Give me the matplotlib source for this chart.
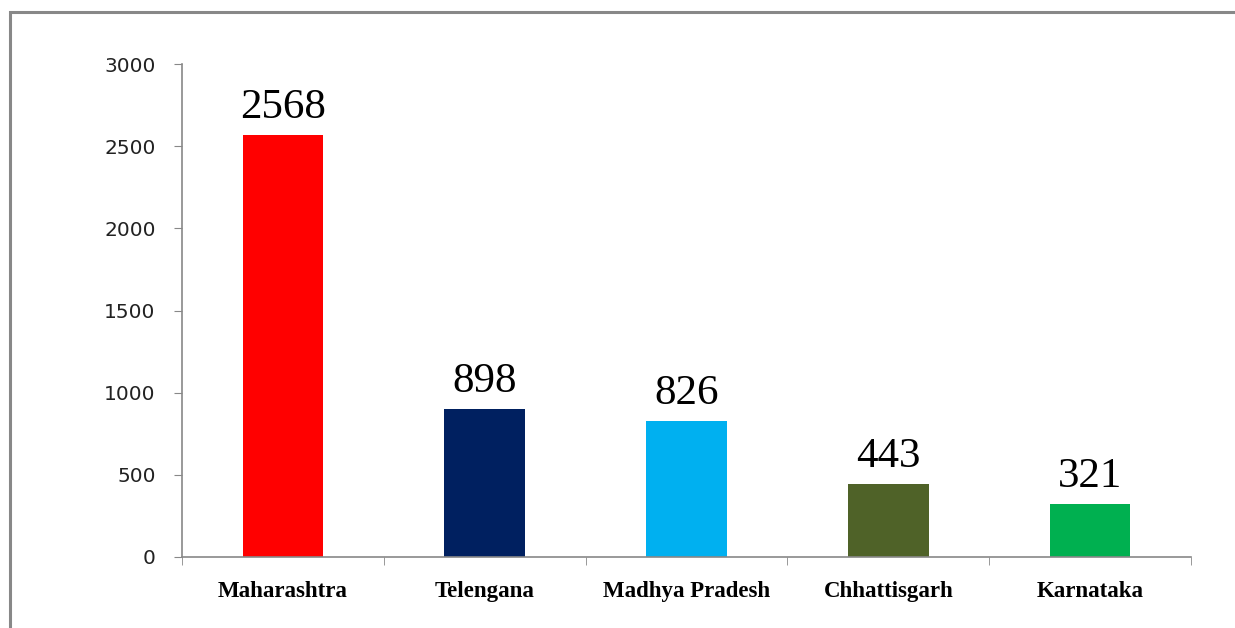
import numpy as np
import matplotlib

matplotlib.use("Agg")
import matplotlib.pyplot as plt
from matplotlib.patches import Rectangle

states = ["Maharashtra", "Telengana", "Madhya Pradesh", "Chhattisgarh", "Karnataka"]
values = [2568, 898, 826, 443, 321]
colors = ["#FF0000", "#002060", "#00B0F0", "#4F6228", "#00B050"]
yticks = [0, 500, 1000, 1500, 2000, 2500, 3000]

W, H = 1235, 628
fig = plt.figure(figsize=(W / 100, H / 100), dpi=100)
ax = fig.add_axes([182 / W, 71 / H, (1191 - 182) / W, (557 - 64) / H])

x = np.arange(len(states))
ax.bar(x, values, width=0.4, color=colors)
for xi, v in zip(x, values):
    ax.annotate(str(v), (xi, v), xytext=(0, 6), textcoords="offset points",
                ha="center", va="bottom", fontsize=31, family="Liberation Serif")

ax.set_xlim(-0.5, len(states) - 0.5)
ax.set_ylim(0, 3000)
ax.set_yticks(yticks)
ax.set_yticklabels([str(t) for t in yticks], fontsize=14.5, family="DejaVu Sans", color="#222222")

ax.set_xticks(x)
ax.set_xticklabels(states, fontsize=16.5, family="Liberation Serif", fontweight="bold")
ax.set_xticks(np.arange(-0.5, len(states)), minor=True)
ax.tick_params(axis="x", which="major", length=0, pad=17)
ax.tick_params(axis="x", which="minor", length=6, color="#888888", direction="out")
ax.tick_params(axis="y", length=6, color="#888888", direction="out", pad=13)

for side in ["top", "right"]:
    ax.spines[side].set_visible(False)
for side in ["left", "bottom"]:
    ax.spines[side].set_color("#888888")
    ax.spines[side].set_linewidth(1.2)

# outer frame
fig.patches.append(Rectangle((9.5 / W, -0.05), 1.2, 1 - 11.5 / H + 0.05,
                             transform=fig.transFigure, fill=False,
                             edgecolor="#888888", linewidth=2.2))

fig.savefig("out.png", dpi=100)
